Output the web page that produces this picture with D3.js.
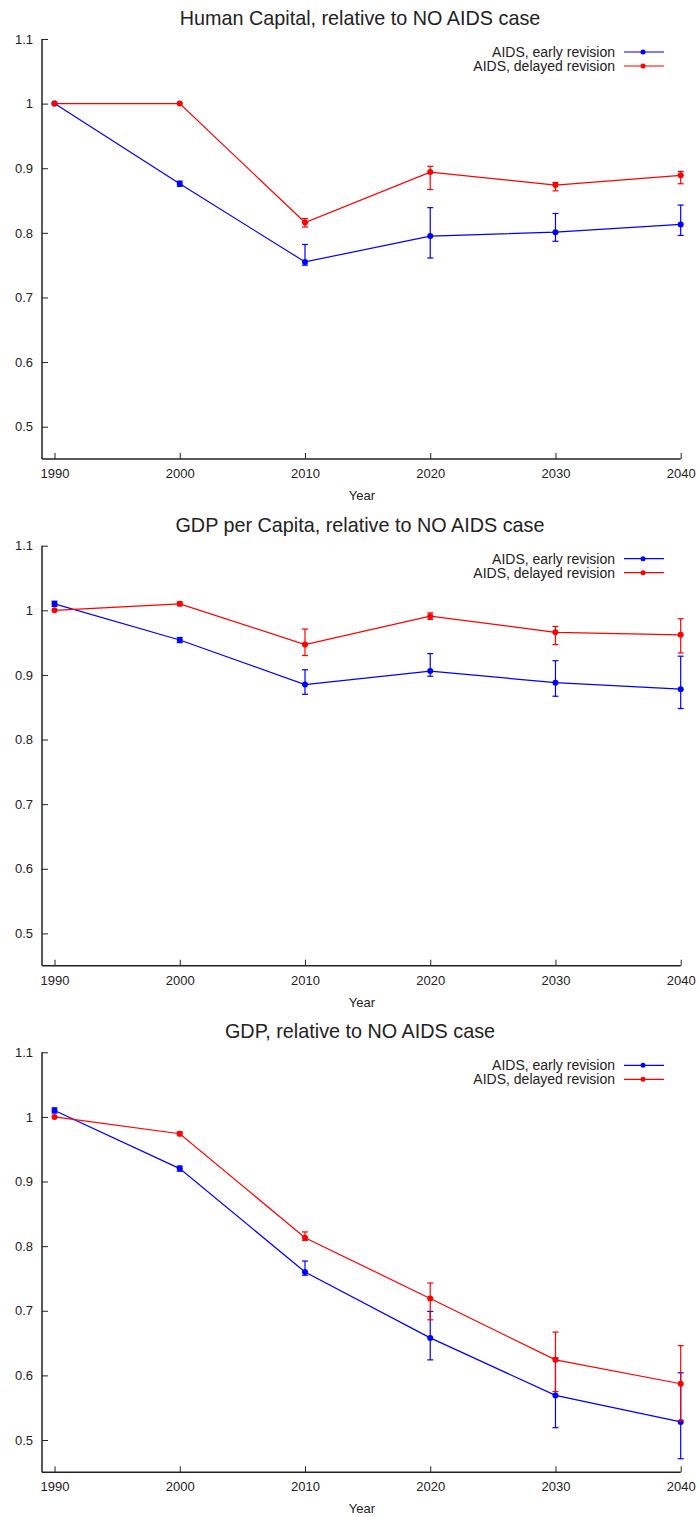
<!DOCTYPE html>
<html><head><meta charset="utf-8">
<script src="https://cdn.jsdelivr.net/npm/d3@7"></script>
<style>body{margin:0;background:#fff}svg{display:block}text{font-family:"Liberation Sans",Arial,sans-serif;fill:#222}</style>
</head><body><svg id="c" width="699" height="1517"></svg>
<script>
const years = [1990, 2000, 2010, 2020, 2030, 2040];
const yTicks = [0.5, 0.6, 0.7, 0.8, 0.9, 1, 1.1];
const titles = ["Human Capital, relative to NO AIDS case", "GDP per Capita, relative to NO AIDS case", "GDP, relative to NO AIDS case"];
const seriesNames = ["AIDS, early revision", "AIDS, delayed revision"];
const seriesColors = ["#0000ff", "#ff0000"];

// Human Capital
const hcEarly = [1.0, 0.876, 0.755, 0.795, 0.801, 0.813];
const hcEarlyLo = [1.0, 0.872, 0.750, 0.761, 0.787, 0.796];
const hcEarlyHi = [1.0, 0.880, 0.782, 0.839, 0.830, 0.843];
const hcDelayed = [1.0, 1.0, 0.816, 0.894, 0.874, 0.889];
const hcDelayedLo = [1.0, 1.0, 0.809, 0.867, 0.865, 0.876];
const hcDelayedHi = [1.0, 1.0, 0.822, 0.903, 0.878, 0.895];
// GDP per capita
const gpcEarly = [1.010, 0.954, 0.885, 0.906, 0.888, 0.878];
const gpcEarlyLo = [1.006, 0.950, 0.870, 0.898, 0.867, 0.848];
const gpcEarlyHi = [1.014, 0.958, 0.908, 0.933, 0.922, 0.929];
const gpcDelayed = [1.0, 1.010, 0.947, 0.991, 0.966, 0.962];
const gpcDelayedLo = [1.0, 1.007, 0.930, 0.986, 0.947, 0.934];
const gpcDelayedHi = [1.0, 1.013, 0.971, 0.996, 0.975, 0.987];
// GDP
const gdpEarly = [1.010, 0.920, 0.760, 0.658, 0.569, 0.528];
const gdpEarlyLo = [1.006, 0.916, 0.755, 0.624, 0.519, 0.471];
const gdpEarlyHi = [1.014, 0.924, 0.777, 0.699, 0.627, 0.604];
const gdpDelayed = [1.0, 0.974, 0.813, 0.719, 0.624, 0.587];
const gdpDelayedLo = [1.0, 0.971, 0.809, 0.686, 0.575, 0.530];
const gdpDelayedHi = [1.0, 0.977, 0.822, 0.743, 0.667, 0.646];

const panels = [
  {title: titles[0], s: [[hcEarly, hcEarlyLo, hcEarlyHi], [hcDelayed, hcDelayedLo, hcDelayedHi]]},
  {title: titles[1], s: [[gpcEarly, gpcEarlyLo, gpcEarlyHi], [gpcDelayed, gpcDelayedLo, gpcDelayedHi]]},
  {title: titles[2], s: [[gdpEarly, gdpEarlyLo, gdpEarlyHi], [gdpDelayed, gdpDelayedLo, gdpDelayedHi]]}
];

const svg = d3.select("#c");
const offsets = [0, 506.7, 1013.3];
const x = d3.scaleLinear().domain([1989, 2040]).range([42, 680.7]);
const y = d3.scaleLinear().domain([0.45, 1.1]).range([459, 39]);

panels.forEach((p, pi) => {
  const g = svg.append("g").attr("transform", `translate(0,${offsets[pi]})`);
  g.append("text").attr("x", 360).attr("y", 25).attr("text-anchor", "middle").attr("font-size", 19.8).text(p.title);

  const xa = g.append("g").attr("transform", `translate(0,${y.range()[0]})`)
    .call(d3.axisTop(x).tickValues(years).tickFormat(d3.format("d")).tickSize(6).tickSizeOuter(0));
  xa.select(".domain").attr("stroke", "#222").attr("stroke-width", 1.5).attr("d", `M${x.range()[0]},0H${x.range()[1]}`);
  xa.selectAll(".tick line").attr("stroke", "#222");
  xa.selectAll(".tick text").attr("y", 19).attr("dy", "0").attr("font-size", 13).attr("fill", "#222");

  const ya = g.append("g").attr("transform", `translate(${x.range()[0]},0)`)
    .call(d3.axisRight(y).tickValues(yTicks).tickFormat(d => d).tickSize(6).tickSizeOuter(0));
  ya.select(".domain").attr("stroke", "#222").attr("stroke-width", 1.5).attr("d", `M0,${y.range()[1]}V${y.range()[0]}`);
  ya.selectAll(".tick line").attr("stroke", "#222");
  ya.selectAll(".tick text").attr("x", -9).attr("text-anchor", "end").attr("font-size", 13).attr("fill", "#222");

  g.append("text").attr("x", 362).attr("y", 500).attr("text-anchor", "middle").attr("font-size", 13).text("Year");

  p.s.forEach((ser, si) => {
    const [v, lo, hi] = ser;
    const col = seriesColors[si];
    const pts = years.map((yr, i) => ({yr, v: v[i], lo: lo[i], hi: hi[i]}));
    g.append("path").datum(pts).attr("fill", "none").attr("stroke", col).attr("stroke-width", 1.2)
      .attr("d", d3.line().x(d => x(d.yr)).y(d => y(d.v)));
    const eb = g.append("g").attr("stroke", col).attr("stroke-width", 1.2);
    pts.filter(d => d.hi - d.lo > 0.0001).forEach(d => {
      eb.append("line").attr("x1", x(d.yr)).attr("x2", x(d.yr)).attr("y1", y(d.lo)).attr("y2", y(d.hi));
      eb.append("line").attr("x1", x(d.yr) - 3).attr("x2", x(d.yr) + 3).attr("y1", y(d.lo)).attr("y2", y(d.lo));
      eb.append("line").attr("x1", x(d.yr) - 3).attr("x2", x(d.yr) + 3).attr("y1", y(d.hi)).attr("y2", y(d.hi));
    });
    g.selectAll(null).data(pts).enter().append("circle")
      .attr("cx", d => x(d.yr)).attr("cy", d => y(d.v)).attr("r", 3).attr("fill", col);

    // legend
    const ly = 52 + si * 14;
    g.append("text").attr("x", 615).attr("y", ly).attr("dy", "0.35em").attr("text-anchor", "end").attr("font-size", 14).text(seriesNames[si]);
    g.append("line").attr("x1", 624).attr("x2", 664).attr("y1", ly).attr("y2", ly).attr("stroke", col).attr("stroke-width", 1.2);
    g.append("circle").attr("cx", 643).attr("cy", ly).attr("r", 2.5).attr("fill", col);
  });
});
</script></body></html>
